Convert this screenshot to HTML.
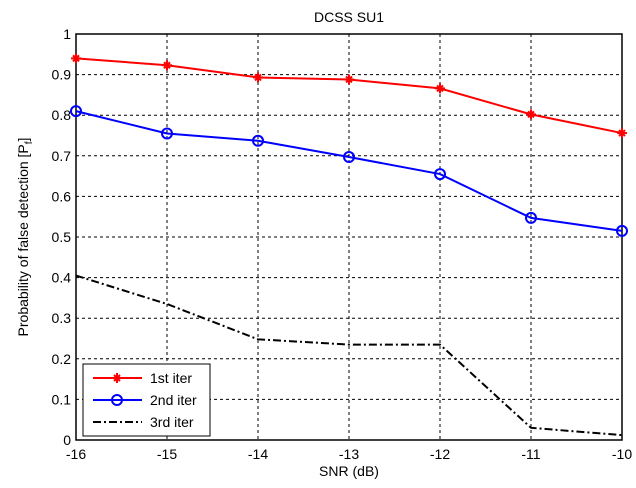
<!DOCTYPE html>
<html><head><meta charset="utf-8"><style>
body{margin:0;background:#fff;}
svg{display:block;font-family:"Liberation Sans",Arial,sans-serif;}
</style></head><body>
<svg id="chart" width="636" height="488">
<rect width="636" height="488" fill="#fff"/>
</svg>
<script>
const xCats=[-16,-15,-14,-13,-12,-11,-10];
const yTicks=[0,0.1,0.2,0.3,0.4,0.5,0.6,0.7,0.8,0.9,1];
const yTickLabels=["0","0.1","0.2","0.3","0.4","0.5","0.6","0.7","0.8","0.9","1"];
const s1=[0.94,0.923,0.893,0.888,0.866,0.802,0.756];
const s2=[0.81,0.755,0.737,0.697,0.655,0.547,0.515];
const s3=[0.405,0.335,0.248,0.235,0.235,0.03,0.012];
const L=76,R=622,T=34,B=440;
const sx=v=>L+(v+16)/6*(R-L);
const sy=v=>B-v*(B-T);
const svg=document.getElementById('chart');
const NS='http://www.w3.org/2000/svg';
function mk(tag,attrs,parent){const e=document.createElementNS(NS,tag);for(const k in attrs)e.setAttribute(k,attrs[k]);(parent||svg).appendChild(e);return e;}
// grid
xCats.forEach((c,i)=>{
 if(i>0&&i<xCats.length-1){const g=mk('line',{x1:sx(c),x2:sx(c),y1:T,y2:B,stroke:'#000','stroke-dasharray':'3,3','stroke-width':1});
 
 }
 const t=mk('text',{x:sx(c),y:B+19,'text-anchor':'middle','font-size':14});t.textContent=c;
 
 
});
yTicks.forEach((v,i)=>{
 if(i>0&&i<yTicks.length-1){const g=mk('line',{x1:L,x2:R,y1:sy(v),y2:sy(v),stroke:'#000','stroke-dasharray':'3,3','stroke-width':1});
 
 }
 const t=mk('text',{x:L-5,y:sy(v)+5,'text-anchor':'end','font-size':14});t.textContent=yTickLabels[i];
 
 
});
const ax=mk('rect',{x:L,y:T,width:R-L,height:B-T,fill:'none',stroke:'#000','stroke-width':1.5});


function series(data,color,dash,name){
 const pts=data.map((v,i)=>sx(xCats[i])+','+sy(v)).join(' ');
 const p=mk('polyline',{points:pts,fill:'none',stroke:color,'stroke-width':2,'stroke-dasharray':dash||''});
 
 
}
series(s1,'#f00','','series-1st-iter');
series(s2,'#00f','','series-2nd-iter');
series(s3,'#000','8,3,2,3','series-3rd-iter');
function star(x,y,name){
 const g=mk('g',{stroke:'#f00','stroke-width':2});
 
 
 mk('line',{x1:x-5,x2:x+5,y1:y,y2:y},g);mk('line',{x1:x,x2:x,y1:y-5,y2:y+5},g);
 mk('line',{x1:x-3,x2:x+3,y1:y-3,y2:y+3},g);mk('line',{x1:x-3,x2:x+3,y1:y+3,y2:y-3},g);
}
s1.forEach((v,i)=>star(sx(xCats[i]),sy(v),'marker-1st-iter'));
s2.forEach((v,i)=>{const c=mk('circle',{cx:sx(xCats[i]),cy:sy(v),r:5,fill:'none',stroke:'#00f','stroke-width':2});
 
 });
// title & labels
const tt=mk('text',{x:349,y:22,'text-anchor':'middle','font-size':14});tt.textContent='DCSS SU1';

const xl=mk('text',{x:349,y:476,'text-anchor':'middle','font-size':14});xl.textContent='SNR (dB)';

const yl=mk('text',{x:0,y:0,'text-anchor':'middle','font-size':14,transform:'translate(28,237) rotate(-90)'});
yl.innerHTML='Probability of false detection [P<tspan font-size="10" dy="4">f</tspan><tspan dy="-4">]</tspan>';

// legend
const lg=mk('g',{});
mk('rect',{x:83,y:364,width:127,height:72,fill:'#fff',stroke:'#000','stroke-width':1},lg);
const items=[['1st iter','#f00',''],['2nd iter','#00f',''],['3rd iter','#000','8,3,2,3']];
items.forEach((it,i)=>{const y=378+i*22;
 mk('line',{x1:93,x2:142,y1:y,y2:y,stroke:it[1],'stroke-width':2,'stroke-dasharray':it[2]},lg);
 const t=mk('text',{x:150,y:y+5,'font-size':14},lg);t.textContent=it[0];
 });
star(117,378,'legend-marker-1st');
const lc=mk('circle',{cx:117,cy:400,r:5,fill:'none',stroke:'#00f','stroke-width':2});

</script>
</body></html>
